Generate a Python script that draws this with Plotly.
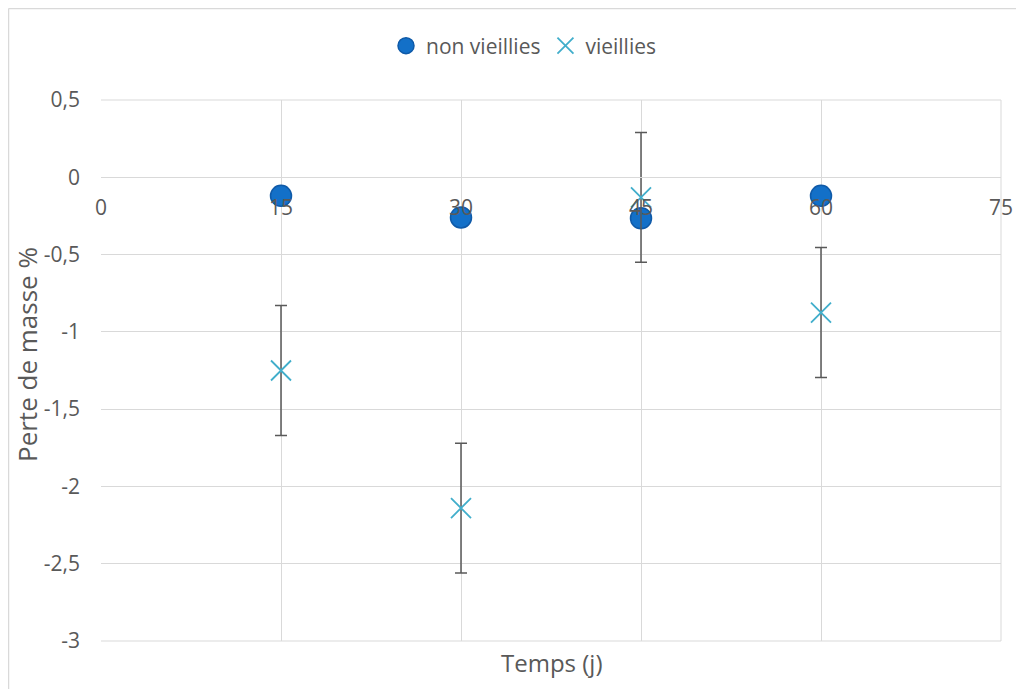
import plotly.graph_objects as go

# data
jours = [15, 30, 45, 60]
non_vieillies = [-0.12, -0.26, -0.265, -0.12]
vieillies = [-1.25, -2.14, -0.13, -0.875]
vieillies_err = [0.42, 0.42, 0.42, 0.42]

x_ticks = [0, 15, 30, 45, 60, 75]
y_ticks = [0.5, 0, -0.5, -1, -1.5, -2, -2.5, -3]
y_labels = ["0,5", "0", "-0,5", "-1", "-1,5", "-2", "-2,5", "-3"]

grey = "#595959"
grid = "#D9D9D9"
font = "Open Sans, Liberation Sans, sans-serif"

# page has an 8px body margin, so the figure is offset by 8px
W, H = 1024, 681
L, R, T, B = 93, 31, 92, 48
pw, ph = W - L - R, H - T - B

def px_x(p):
    return (p - L) / pw

def px_y(p):
    return 1 - (p - T) / ph

fig = go.Figure()
fig.add_trace(go.Scatter(
    x=jours, y=non_vieillies, mode="markers", name="non vieillies",
    marker=dict(symbol="circle", size=21, color="#1370C8",
                line=dict(color="#0F5AA8", width=1.5)),
))
fig.add_trace(go.Scatter(
    x=jours, y=vieillies, mode="markers", name="vieillies",
    marker=dict(symbol="x-thin-open", size=20, color="#41AECB",
                line=dict(color="#41AECB", width=1.8)),
    error_y=dict(type="data", array=vieillies_err, visible=True,
                 color=grey, thickness=1.5, width=6),
))

y_min, y_max = -3, 0.5
fig.update_layout(
    width=W, height=H,
    paper_bgcolor="white", plot_bgcolor="white",
    margin=dict(l=L, r=R, t=T, b=B),
    font=dict(family=font, size=20, color=grey),
    showlegend=True,
    legend=dict(orientation="h", x=px_x(516), xanchor="center", y=px_y(38),
                yanchor="middle", font=dict(size=21, color=grey),
                itemwidth=30, tracegroupgap=0),
    xaxis=dict(range=[0, 75], tickvals=x_ticks, showgrid=True, gridcolor=grid,
               gridwidth=1, zeroline=False, showline=True, linecolor=grid,
               anchor="free", position=(0 - y_min) / (y_max - y_min),
               ticks="", ticklabelstandoff=12,
               tickfont=dict(size=21, color=grey), layer="above traces"),
    yaxis=dict(range=[y_min, y_max], tickvals=y_ticks, ticktext=y_labels,
               showgrid=True, gridcolor=grid, gridwidth=1, zeroline=False,
               showline=False, ticks="", ticklabelstandoff=20,
               tickfont=dict(size=21, color=grey)),
    annotations=[
        dict(text="Temps (j)", x=px_x(543), xref="paper", y=px_y(654), yref="paper",
             xanchor="center", yanchor="middle", showarrow=False,
             font=dict(size=24, color=grey)),
        dict(text="Perte de masse %", x=px_x(19), xref="paper", y=px_y(347),
             yref="paper", xanchor="center", yanchor="middle", textangle=-90,
             showarrow=False, font=dict(size=26, color=grey)),
    ],
    shapes=[
        dict(type="line", xref="paper", yref="paper", x0=1.0, x1=1.0, y0=0, y1=1,
             line=dict(color=grid, width=1)),
        dict(type="line", xref="paper", yref="paper", x0=0, x1=1.0, y0=1, y1=1,
             line=dict(color=grid, width=1)),
        dict(type="line", xref="paper", yref="paper", x0=0, x1=1.0, y0=0, y1=0,
             line=dict(color=grid, width=1)),
        # outer chart border (left and top)
        dict(type="line", xref="paper", yref="paper", x0=px_x(0.5), x1=px_x(0.5),
             y0=px_y(H), y1=px_y(0.5), line=dict(color=grid, width=1.5)),
        dict(type="line", xref="paper", yref="paper", x0=px_x(0.5), x1=px_x(W),
             y0=px_y(0.5), y1=px_y(0.5), line=dict(color=grid, width=1.5)),
    ],
)

fig.write_html("out.html")
